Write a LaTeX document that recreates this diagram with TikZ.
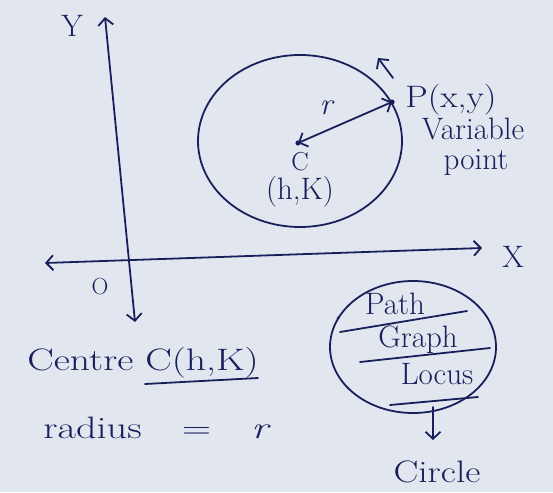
\documentclass[tikz,border=0pt]{standalone}
\usetikzlibrary{arrows.meta,shapes.geometric}
\definecolor{ink}{RGB}{24,32,92}
\definecolor{paper}{RGB}{226,231,239}
\begin{document}
\begin{tikzpicture}[x=1pt,y=-1pt,
  pen/.style={draw=ink, line width=1.8pt, line cap=round, line join=round},
  txt/.style={text=ink, inner sep=0pt, font=\fontsize{31}{33}\selectfont},
  small/.style={text=ink, inner sep=0pt, font=\fontsize{26}{28}\selectfont},
  barb/.style={-{Straight Barb[length=7pt,width=15pt]}},
  barbs/.style={{Straight Barb[length=7pt,width=15pt]}-{Straight Barb[length=7pt,width=15pt]}},
  oval/.style={pen, ellipse, inner sep=0pt}
]
\fill[paper] (0,0) rectangle (553,492);
\useasboundingbox (0,0) rectangle (553,492);

% axes
\coordinate (ytop) at (105,17);
\coordinate (ybot) at (135,322);
\coordinate (xl) at (45,263);
\coordinate (xr) at (482,248);
\draw[pen, barbs] (ybot) -- (ytop);
\draw[pen, barbs] (xl) -- (xr);
\node[txt] (Ylab) at (72,26) {Y};
\node[txt] (Xlab) at (513,257) {X};
\node[txt] (O) at (100,287) {\scalebox{0.75}{O}};

% circle
\node[oval, minimum width=204pt, minimum height=172pt] (circ) at (300,141) {};
\coordinate (C) at (298,143);
\coordinate (P) at (392,102);
\fill[ink] (C) circle (2.6);
\fill[ink] (P) circle (2.6);
\draw[pen, barbs] (C) -- (P);
\node[txt] (r) at (327,108) {\textit{r}};
\node[small] (Clab) at (300,162) {C};
\node[txt] (hk) at (300,192) {(h,K)};
\coordinate (a1) at (393,78);
\coordinate (a2) at (378,58);
\draw[pen, barb] (a1) -- (a2);
\node[txt] (Plab) at (451,100) {\scalebox{1.15}[1]{P(x,y)}};
\node[txt] (var) at (473,129) {Variable};
\node[txt] (pt) at (476,163) {point};

% bottom left
\node[txt] (centre) at (143,363) {\scalebox{1.28}[1]{Centre C(h,K)}};
\coordinate (u1) at (145,384);
\coordinate (u2) at (258,378);
\draw[pen] (u1) -- (u2);
\node[txt] (rad) at (157,428) {\scalebox{1.3}[1]{radius\quad=\quad\textit{r}}};

% bottom right
\node[oval, minimum width=166pt, minimum height=132pt] (loc) at (413,347) {};
\node[txt] (path) at (395,304) {Path};
\coordinate (l1a) at (340,332); \coordinate (l1b) at (467,311);
\draw[pen] (l1a) -- (l1b);
\node[txt] (graph) at (418,340) {Graph};
\coordinate (l2a) at (360,362); \coordinate (l2b) at (490,348);
\draw[pen] (l2a) -- (l2b);
\node[txt] (locus) at (437,374) {Locus};
\coordinate (l3a) at (390,405); \coordinate (l3b) at (478,397);
\draw[pen] (l3a) -- (l3b);
\fill[ink] (338,318) circle (1.5);
\coordinate (d1) at (433,407);
\coordinate (d2) at (433,440);
\draw[pen, barb] (d1) -- (d2);
\node[txt] (circle) at (437,472) {\scalebox{1.2}[1]{Circle}};
\end{tikzpicture}
\end{document}
